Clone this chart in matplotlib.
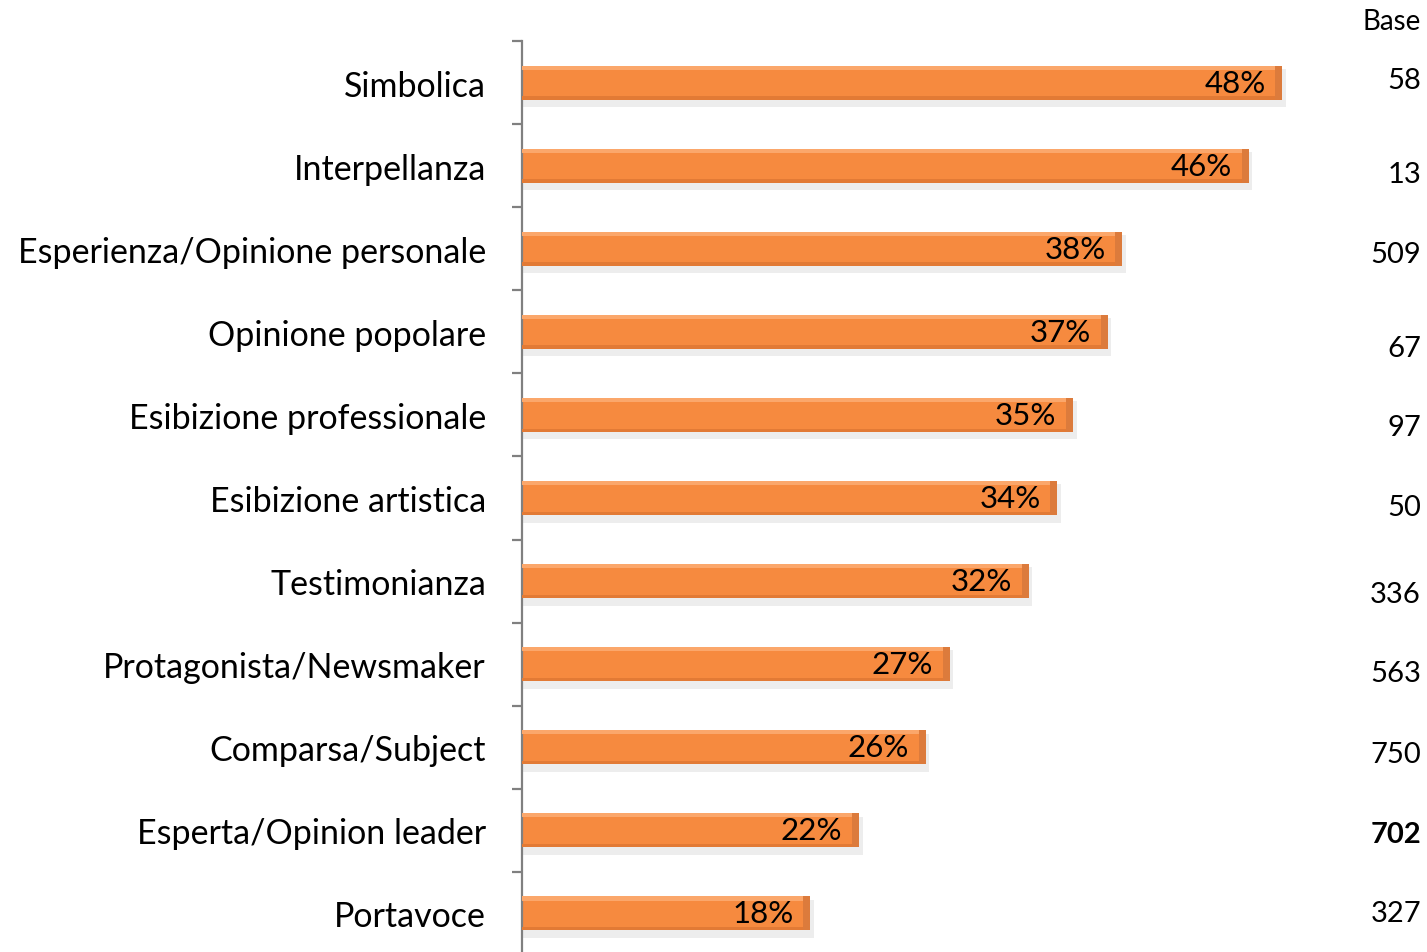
import matplotlib
matplotlib.use("Agg")
import matplotlib.pyplot as plt
from matplotlib.patches import Rectangle
import numpy as np

categories = ["Simbolica", "Interpellanza", "Esperienza/Opinione personale",
              "Opinione popolare", "Esibizione professionale", "Esibizione artistica",
              "Testimonianza", "Protagonista/Newsmaker", "Comparsa/Subject",
              "Esperta/Opinion leader", "Portavoce"]
values = [48.0, 45.9, 37.9, 37.0, 34.8, 33.8, 32.0, 27.0, 25.5, 21.3, 18.2]
value_labels = ["48%", "46%", "38%", "37%", "35%", "34%", "32%", "27%", "26%", "22%", "18%"]
bases = ["58", "13", "509", "67", "97", "50", "336", "563", "750", "702", "327"]
base_bold = [False] * 9 + [True, False]
base_dy_px = [-3, 8, 5, 16, 12, 9, 13, 9, 7, 4, 0]

plt.rcParams['font.family'] = ['Lato', 'DejaVu Sans']

W, H = 1427, 953
fig = plt.figure(figsize=(W / 100, H / 100), dpi=100)
ax = fig.add_axes([522 / W, -3 / H, (1330 - 522) / W, 914 / H])

n = len(categories)
y = np.arange(n)
bar_h = 0.41
main = '#F68A3F'
ax.set_xlim(0, 51)
ax.set_ylim(n - 0.5, -0.5)

pxx = (1330 - 522) / 51.0
cap = 7 / pxx
for yi, v, lab in zip(y, values, value_labels):
    ax.add_patch(Rectangle((0, yi - bar_h / 2 + 0.04), v + 0.2, bar_h + 0.05,
                           facecolor='#000000', alpha=0.07, linewidth=0, zorder=1))
    ax.add_patch(Rectangle((0, yi - bar_h / 2), v, bar_h,
                           facecolor=main, edgecolor='none', zorder=2))
    ax.add_patch(Rectangle((0, yi - bar_h / 2), v, bar_h * 0.12,
                           facecolor='#FBA76B', edgecolor='none', zorder=3))
    ax.add_patch(Rectangle((0, yi + bar_h / 2 - bar_h * 0.1), v, bar_h * 0.1,
                           facecolor='#E27A35', edgecolor='none', zorder=3))
    ax.add_patch(Rectangle((v - cap, yi - bar_h / 2), cap, bar_h,
                           facecolor='#DC7B3C', edgecolor='none', zorder=4))
    ax.annotate(lab, xy=(v, yi), xytext=(-17, 0), textcoords='offset pixels',
                ha='right', va='center', fontsize=22.5, color='black', zorder=5)

for yi, b, bold, dy in zip(y, bases, base_bold, base_dy_px):
    ax.annotate(b, xy=(1.0, yi), xycoords=('figure fraction', 'data'),
                xytext=(-6, -dy), textcoords='offset pixels',
                ha='right', va='center', fontsize=21,
                fontweight='bold' if bold else 'normal', color='black',
                annotation_clip=False)
fig.text(1421 / W, 1 - 22 / H, "Base", ha='right', va='center', fontsize=20)

for s in ['top', 'right', 'bottom']:
    ax.spines[s].set_visible(False)
ax.spines['left'].set_color('#808080')
ax.spines['left'].set_linewidth(1.6)
ax.set_xticks([])
ax.set_yticks(y)
ax.set_yticklabels(categories, fontsize=24.5)
ax.tick_params(axis='y', which='major', length=0, pad=26)
ax.set_yticks(np.arange(n + 1) - 0.5, minor=True)
ax.tick_params(axis='y', which='minor', length=7, width=1.6, color='#808080')

fig.savefig("out.png", dpi=100)
